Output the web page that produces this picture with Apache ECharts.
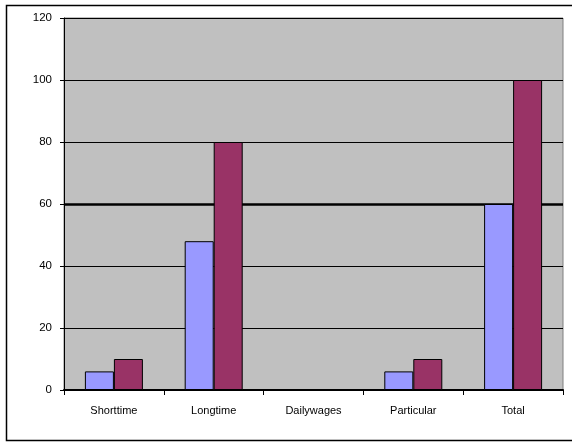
<!DOCTYPE html>
<html><head><meta charset="utf-8">
<script src="https://cdn.jsdelivr.net/npm/echarts@6/dist/echarts.min.js"></script>
<style>html,body{margin:0;padding:0;background:#fff;overflow:hidden}#c{width:572px;height:443px}</style>
</head><body><div id="c"></div>
<script>
const categories = ['Shorttime','Longtime','Dailywages','Particular','Total'];
const seriesA = [6, 48, 0, 6, 60];
const seriesB = [10, 80, 0, 10, 100];
const yTicks = [0, 20, 40, 60, 80, 100, 120];

const chart = echarts.init(document.getElementById('c'), null, {renderer:'canvas'});
chart.setOption({
  animation: false,
  backgroundColor: '#fff',
  graphic: [{
    type: 'polyline', z: -10, silent: true,
    shape: {points: [[590, 5.5], [6.5, 5.5], [6.5, 440.5], [590, 440.5]]},
    style: {fill: null, stroke: '#000', lineWidth: 1.5}
  }],
  grid: {left: 64, top: 18, right: 9, bottom: 53, show: true,
    backgroundColor: '#c0c0c0', borderColor: '#808080', borderWidth: 1},
  xAxis: {
    type: 'category', data: categories,
    axisLine: {lineStyle: {color: '#000', width: 2}},
    axisTick: {show: true, length: 5, lineStyle: {color: '#000'}, inside: false},
    axisLabel: {color: '#000', fontFamily: 'Liberation Sans, Arial', fontSize: 11, margin: 15}
  },
  yAxis: [{
    type: 'value', min: 0, max: 120, interval: 20,
    axisLine: {show: true, lineStyle: {color: '#000', width: 1}},
    axisTick: {show: true, length: 4, lineStyle: {color: '#000'}},
    axisLabel: {color: '#000', fontFamily: 'Liberation Sans, Arial', fontSize: 11.5, margin: 12,
      formatter: v => yTicks.includes(v) ? String(v) : ''},
    splitLine: {show: true, lineStyle: {color: '#000', width: 1}}
  }, {
    type: 'value', min: 0, max: 120, interval: 60, position: 'left',
    axisLine: {show: false}, axisTick: {show: false}, axisLabel: {show: false},
    splitLine: {show: true, lineStyle: {color: ['rgba(0,0,0,0)', '#000', 'rgba(0,0,0,0)'], width: 2.5}}
  }],
  series: [
    {type: 'bar', data: seriesA, barWidth: 29, barGap: '0%',
      itemStyle: {color: '#9999ff', borderColor: '#000', borderWidth: 1}},
    {type: 'bar', data: seriesB, barWidth: 29, barGap: '0%',
      itemStyle: {color: '#993366', borderColor: '#000', borderWidth: 1}}
  ]
});
</script></body></html>
